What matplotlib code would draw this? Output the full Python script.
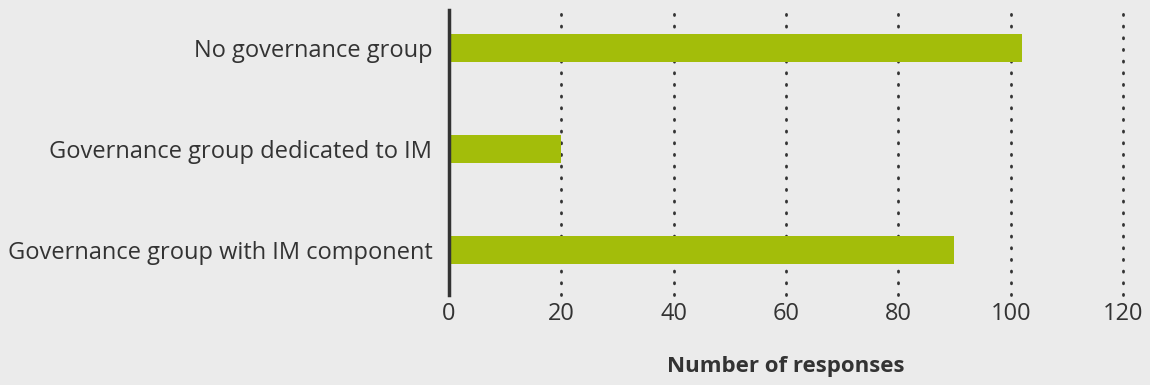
import matplotlib
matplotlib.use("Agg")
import matplotlib.pyplot as plt

categories = [
    "Governance group with IM component",
    "Governance group dedicated to IM",
    "No governance group",
]
responses = [90, 20, 102]
x_ticks = [0, 20, 40, 60, 80, 100, 120]

BG = "#ebebeb"
BAR = "#a3bd0a"
TEXT = "#333333"

plt.rcParams["font.family"] = ["Open Sans", "DejaVu Sans"]

fig = plt.figure(figsize=(11.5, 3.85), dpi=100, facecolor=BG)
ax = fig.add_axes([0.3904, 0.2338, 0.5861, 0.7402], facecolor=BG)

y = list(range(len(categories)))
ax.barh(y, responses, height=0.28, color=BAR, zorder=3)

ax.set_xlim(0, 120)
ax.set_ylim(-0.445, 2.376)
ax.set_xticks(x_ticks)
ax.set_yticks(y)
ax.set_yticklabels(categories)

# dotted vertical gridlines
for t in x_ticks[1:]:
    ax.axvline(t, color="#333333", lw=2.0, linestyle=(0, (0.4, 3.8)),
               dash_capstyle="round", zorder=1, clip_on=False)

for side in ["top", "right", "bottom"]:
    ax.spines[side].set_visible(False)
ax.spines["left"].set_color("#333333")
ax.spines["left"].set_linewidth(2.5)
ax.spines["left"].set_zorder(4)

ax.tick_params(axis="both", length=0, labelsize=17, labelcolor=TEXT)
ax.tick_params(axis="y", pad=12)
ax.tick_params(axis="x", pad=5)

ax.set_xlabel("Number of responses", fontsize=16, fontweight="bold",
              color=TEXT, labelpad=22)

fig.savefig("out.png", dpi=100, facecolor=BG)
